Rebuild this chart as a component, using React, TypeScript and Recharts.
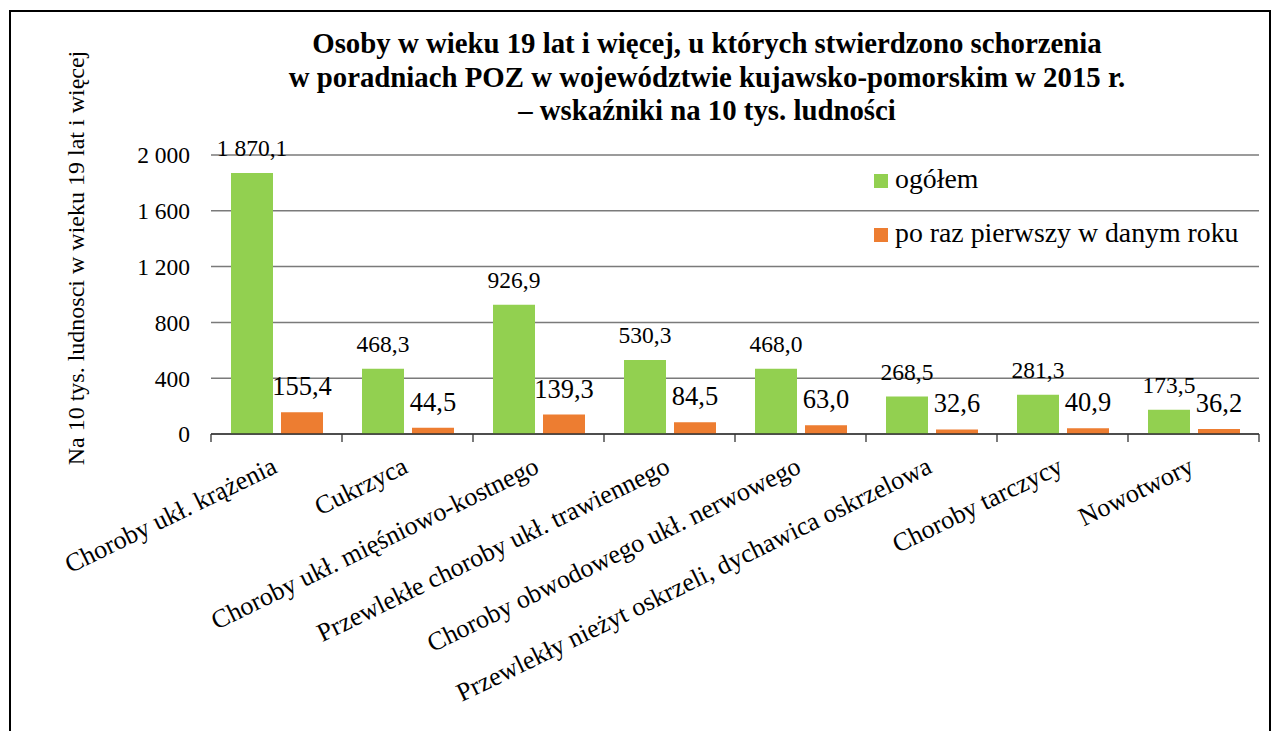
import React from 'react';
import { BarChart, Bar, XAxis, YAxis, CartesianGrid, LabelList, Label } from 'recharts';

const categories = [
  'Choroby ukł. krążenia',
  'Cukrzyca',
  'Choroby ukł. mięśniowo-kostnego',
  'Przewlekłe choroby ukł. trawiennego',
  'Choroby obwodowego ukł. nerwowego',
  'Przewlekły nieżyt oskrzeli, dychawica oskrzelowa',
  'Choroby tarczycy',
  'Nowotwory',
];
const ogolem = [1870.1, 468.3, 926.9, 530.3, 468.0, 268.5, 281.3, 173.5];
const poRazPierwszy = [155.4, 44.5, 139.3, 84.5, 63.0, 32.6, 40.9, 36.2];
const yTicks = [0, 400, 800, 1200, 1600, 2000];
const seriesKeys = ['ogolem', 'pierwszy'];
const seriesNames = ['ogółem', 'po raz pierwszy w danym roku'];
const seriesColors = ['#92D050', '#ED7D31'];
const titleLines = [
  'Osoby w wieku 19 lat i więcej, u których stwierdzono schorzenia',
  'w poradniach POZ w województwie kujawsko-pomorskim w 2015 r.',
  '– wskaźniki na 10 tys. ludności',
];
const yAxisTitle = 'Na 10 tys. ludnosci w wieku 19 lat i więcej';

const FONT = "'Liberation Serif', 'Times New Roman', Times, serif";

const data = categories.map((name, i) => ({
  name,
  ogolem: ogolem[i],
  pierwszy: poRazPierwszy[i],
}));

const group = (s: string) => s.replace(/\B(?=(\d{3})+(?!\d))/g, '\u00A0');
const fmtValue = (v: any) => {
  const [i, d] = Number(v).toFixed(1).split('.');
  return `${group(i)},${d}`;
};
const fmtTick = (v: any) => group(String(v));

const XTick = (props: any) => {
  const { x, y, payload, index } = props;
  const half = payload && payload.offset ? payload.offset : 65.5;
  const axisY = y - 8;
  const lx = x + 2;
  const ly = y + 30;
  const isLast = index === categories.length - 1;
  return (
    <g>
      <line x1={x - half} x2={x - half} y1={axisY} y2={axisY + 8} stroke="#333" strokeWidth={1.3} />
      {isLast && (
        <line x1={x + half} x2={x + half} y1={axisY} y2={axisY + 8} stroke="#333" strokeWidth={1.3} />
      )}
      <text
        x={lx}
        y={ly}
        textAnchor="end"
        transform={`rotate(-26 ${lx} ${ly})`}
        fontSize={26}
        fontFamily={FONT}
        fill="#000"
      >
        {payload.value}
      </text>
    </g>
  );
};

const YTitle = () => (
  <text
    x={84}
    y={258}
    textAnchor="middle"
    transform="rotate(-90 84 258)"
    fontSize={24}
    fontFamily={FONT}
    fill="#000"
  >
    {yAxisTitle}
  </text>
);

const labelSizes = [23.5, 26.5];

export default function App() {
  return (
    <div
      style={{
        position: 'absolute',
        left: 0,
        top: 0,
        width: 1279,
        height: 731,
        overflow: 'hidden',
        background: '#fff',
      }}
    >
      <div
        style={{
          position: 'absolute',
          left: 9,
          top: 10,
          width: 1258,
          height: 760,
          border: '2px solid #000',
        }}
      />
      <BarChart
        width={1279}
        height={731}
        data={data}
        margin={{ top: 155, right: 20, bottom: 267, left: 151 }}
        barCategoryGap={20}
        barGap={8}
      >
        <CartesianGrid vertical={false} stroke="#7a7a7a" strokeWidth={1.5} />
        <XAxis
          dataKey="name"
          height={30}
          interval={0}
          axisLine={{ stroke: '#333', strokeWidth: 1.5 }}
          tickLine={false}
          tick={<XTick />}
        />
        <YAxis
          domain={[0, 2000]}
          ticks={yTicks}
          width={60}
          axisLine={false}
          tickLine={false}
          tickMargin={15}
          tickFormatter={fmtTick}
          tick={{ fontSize: 23.5, fill: '#000', fontFamily: FONT }}
        >
          <Label content={<YTitle />} />
        </YAxis>
        {seriesKeys.map((k, i) => (
          <Bar key={k} dataKey={k} name={seriesNames[i]} fill={seriesColors[i]} isAnimationActive={false}>
            <LabelList
              dataKey={k}
              position="top"
              offset={17}
              formatter={fmtValue}
              fill="#000"
              fontSize={labelSizes[i]}
              fontFamily={FONT}
            />
          </Bar>
        ))}
      </BarChart>
      <div
        style={{
          position: 'absolute',
          left: 207,
          top: 27,
          width: 1000,
          textAlign: 'center',
          fontFamily: FONT,
          fontWeight: 'bold',
          fontSize: 28.8,
          lineHeight: '33.5px',
          color: '#000',
        }}
      >
        {titleLines.map((t, i) => (
          <div key={i} style={{ whiteSpace: 'nowrap' }}>{t}</div>
        ))}
      </div>
      {seriesNames.map((n, i) => (
        <React.Fragment key={n}>
          <div
            style={{
              position: 'absolute',
              left: 874,
              top: i === 0 ? 174 : 228,
              width: 14,
              height: 14,
              background: seriesColors[i],
            }}
          />
          <div
            style={{
              position: 'absolute',
              left: 895,
              top: i === 0 ? 165 : 219,
              fontFamily: FONT,
              fontSize: 27.8,
              lineHeight: '27.8px',
              whiteSpace: 'nowrap',
              color: '#000',
            }}
          >
            {n}
          </div>
        </React.Fragment>
      ))}
    </div>
  );
}
